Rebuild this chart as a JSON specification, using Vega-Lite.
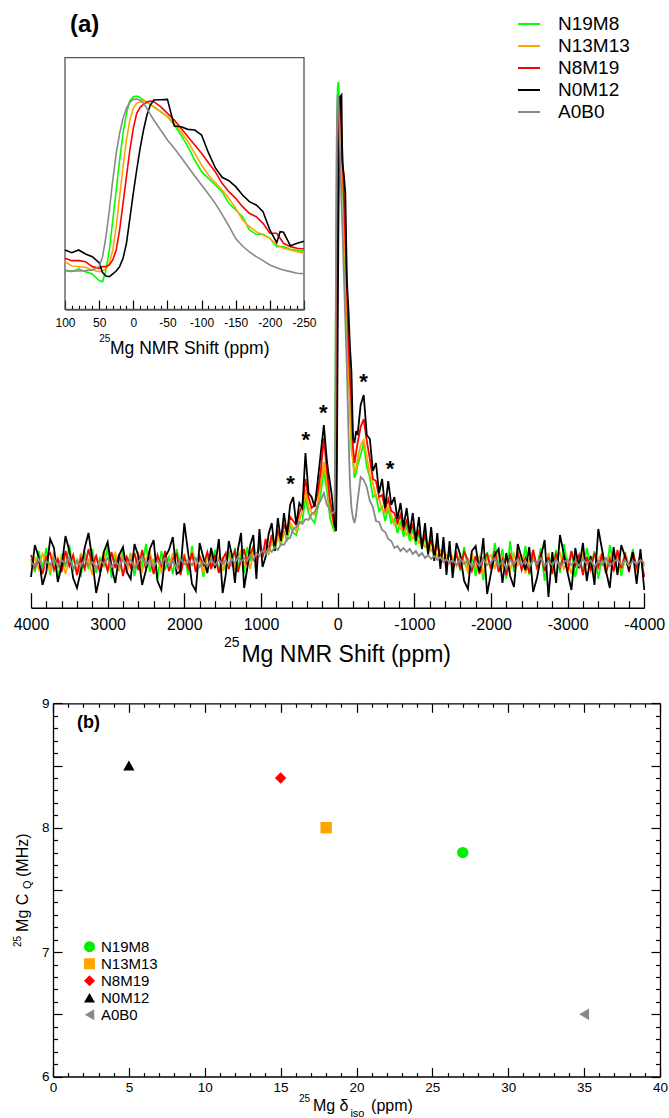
{
"$schema": "https://vega.github.io/schema/vega-lite/v6.json",
"width": 669, "height": 1118, "padding": 0, "autosize": {"type": "none"},
"background": "white",
"config": {"view": {"stroke": null}, "font": "Liberation Sans",
  "axis": {"grid": false, "zindex": 1, "domainColor": "black", "tickColor": "black", "labelColor": "black", "labelFlush": false, "labelOverlap": false, "labelBound": false, "labelFont": "Liberation Sans", "tickWidth": 1.2, "domainWidth": 1.3}},
"datasets": {
"spec": [
{"ppm":4000,"N19M8":4,"N13M13":-3,"N8M19":8,"N0M12":-14,"A0B0":1},
{"ppm":3950,"N19M8":-9,"N13M13":5,"N8M19":-4,"N0M12":18,"A0B0":-3},
{"ppm":3900,"N19M8":12,"N13M13":-6,"N8M19":3,"N0M12":6,"A0B0":4},
{"ppm":3850,"N19M8":-5,"N13M13":9,"N8M19":-11,"N0M12":-22,"A0B0":-5},
{"ppm":3800,"N19M8":15,"N13M13":2,"N8M19":6,"N0M12":-9,"A0B0":2},
{"ppm":3750,"N19M8":-12,"N13M13":-8,"N8M19":10,"N0M12":24,"A0B0":-2},
{"ppm":3700,"N19M8":6,"N13M13":11,"N8M19":-7,"N0M12":15,"A0B0":5},
{"ppm":3650,"N19M8":-17,"N13M13":-2,"N8M19":4,"N0M12":-19,"A0B0":-4},
{"ppm":3600,"N19M8":9,"N13M13":6,"N8M19":-9,"N0M12":-3,"A0B0":3},
{"ppm":3550,"N19M8":-4,"N13M13":-11,"N8M19":12,"N0M12":27,"A0B0":-1},
{"ppm":3500,"N19M8":18,"N13M13":4,"N8M19":-3,"N0M12":12,"A0B0":6},
{"ppm":3450,"N19M8":-8,"N13M13":7,"N8M19":8,"N0M12":-15,"A0B0":-6},
{"ppm":3400,"N19M8":3,"N13M13":-9,"N8M19":-12,"N0M12":-25,"A0B0":2},
{"ppm":3350,"N19M8":-14,"N13M13":10,"N8M19":5,"N0M12":-8,"A0B0":-3},
{"ppm":3300,"N19M8":11,"N13M13":-4,"N8M19":-6,"N0M12":15,"A0B0":4},
{"ppm":3250,"N19M8":-6,"N13M13":3,"N8M19":14,"N0M12":30,"A0B0":-2},
{"ppm":3200,"N19M8":14,"N13M13":-12,"N8M19":-2,"N0M12":4,"A0B0":1},
{"ppm":3150,"N19M8":-10,"N13M13":8,"N8M19":7,"N0M12":-30,"A0B0":-5},
{"ppm":3100,"N19M8":5,"N13M13":-5,"N8M19":-10,"N0M12":-12,"A0B0":3},
{"ppm":3050,"N19M8":-3,"N13M13":12,"N8M19":4,"N0M12":11,"A0B0":-1},
{"ppm":3000,"N19M8":16,"N13M13":-7,"N8M19":-8,"N0M12":21,"A0B0":5},
{"ppm":2950,"N19M8":-15,"N13M13":3,"N8M19":11,"N0M12":-4,"A0B0":-4},
{"ppm":2900,"N19M8":7,"N13M13":10,"N8M19":-5,"N0M12":-20,"A0B0":2},
{"ppm":2850,"N19M8":-8,"N13M13":-6,"N8M19":9,"N0M12":8,"A0B0":-3},
{"ppm":2800,"N19M8":13,"N13M13":5,"N8M19":-13,"N0M12":16,"A0B0":4},
{"ppm":2750,"N19M8":-5,"N13M13":-10,"N8M19":6,"N0M12":-9,"A0B0":-2},
{"ppm":2700,"N19M8":10,"N13M13":7,"N8M19":-4,"N0M12":-16,"A0B0":3},
{"ppm":2650,"N19M8":-13,"N13M13":-3,"N8M19":10,"N0M12":19,"A0B0":-5},
{"ppm":2600,"N19M8":8,"N13M13":9,"N8M19":-7,"N0M12":7,"A0B0":1},
{"ppm":2550,"N19M8":-2,"N13M13":-8,"N8M19":13,"N0M12":-22,"A0B0":6},
{"ppm":2500,"N19M8":19,"N13M13":4,"N8M19":-6,"N0M12":-7,"A0B0":-2},
{"ppm":2450,"N19M8":-9,"N13M13":11,"N8M19":5,"N0M12":14,"A0B0":3},
{"ppm":2400,"N19M8":4,"N13M13":-5,"N8M19":-11,"N0M12":23,"A0B0":-4},
{"ppm":2350,"N19M8":-16,"N13M13":6,"N8M19":8,"N0M12":-18,"A0B0":2},
{"ppm":2300,"N19M8":12,"N13M13":-9,"N8M19":-3,"N0M12":-27,"A0B0":-1},
{"ppm":2250,"N19M8":-7,"N13M13":5,"N8M19":12,"N0M12":6,"A0B0":5},
{"ppm":2200,"N19M8":6,"N13M13":-4,"N8M19":-8,"N0M12":13,"A0B0":-3},
{"ppm":2150,"N19M8":-11,"N13M13":10,"N8M19":4,"N0M12":26,"A0B0":2},
{"ppm":2100,"N19M8":14,"N13M13":-7,"N8M19":9,"N0M12":-11,"A0B0":-5},
{"ppm":2050,"N19M8":-4,"N13M13":3,"N8M19":-12,"N0M12":-8,"A0B0":4},
{"ppm":2000,"N19M8":9,"N13M13":8,"N8M19":6,"N0M12":40,"A0B0":-1},
{"ppm":1950,"N19M8":-12,"N13M13":-6,"N8M19":-5,"N0M12":10,"A0B0":3},
{"ppm":1900,"N19M8":17,"N13M13":12,"N8M19":10,"N0M12":-21,"A0B0":-2},
{"ppm":1850,"N19M8":-6,"N13M13":-3,"N8M19":-9,"N0M12":-28,"A0B0":5},
{"ppm":1800,"N19M8":5,"N13M13":7,"N8M19":7,"N0M12":20,"A0B0":-4},
{"ppm":1750,"N19M8":-14,"N13M13":-10,"N8M19":-2,"N0M12":5,"A0B0":1},
{"ppm":1700,"N19M8":10,"N13M13":4,"N8M19":11,"N0M12":-10,"A0B0":-3},
{"ppm":1650,"N19M8":-3,"N13M13":9,"N8M19":-6,"N0M12":15,"A0B0":4},
{"ppm":1600,"N19M8":13,"N13M13":-5,"N8M19":8,"N0M12":-5,"A0B0":-2},
{"ppm":1550,"N19M8":-9,"N13M13":6,"N8M19":-10,"N0M12":24,"A0B0":3},
{"ppm":1500,"N19M8":6,"N13M13":-8,"N8M19":4,"N0M12":-30,"A0B0":-1},
{"ppm":1460,"N19M8":-8,"N13M13":5,"N8M19":10,"N0M12":-12,"A0B0":3},
{"ppm":1420,"N19M8":12,"N13M13":-4,"N8M19":-6,"N0M12":22,"A0B0":-2},
{"ppm":1380,"N19M8":-3,"N13M13":9,"N8M19":5,"N0M12":8,"A0B0":4},
{"ppm":1340,"N19M8":15,"N13M13":-7,"N8M19":12,"N0M12":-20,"A0B0":0},
{"ppm":1300,"N19M8":-6,"N13M13":6,"N8M19":-9,"N0M12":14,"A0B0":6},
{"ppm":1260,"N19M8":9,"N13M13":12,"N8M19":3,"N0M12":30,"A0B0":1},
{"ppm":1220,"N19M8":-10,"N13M13":-3,"N8M19":14,"N0M12":-25,"A0B0":5},
{"ppm":1180,"N19M8":16,"N13M13":8,"N8M19":-2,"N0M12":-6,"A0B0":2},
{"ppm":1140,"N19M8":2,"N13M13":-6,"N8M19":9,"N0M12":18,"A0B0":8},
{"ppm":1100,"N19M8":18,"N13M13":11,"N8M19":16,"N0M12":28,"A0B0":3},
{"ppm":1060,"N19M8":0,"N13M13":4,"N8M19":-1,"N0M12":-16,"A0B0":10},
{"ppm":1020,"N19M8":22,"N13M13":15,"N8M19":20,"N0M12":34,"A0B0":7},
{"ppm":980,"N19M8":5,"N13M13":8,"N8M19":6,"N0M12":-4,"A0B0":13},
{"ppm":940,"N19M8":20,"N13M13":18,"N8M19":24,"N0M12":6,"A0B0":9},
{"ppm":900,"N19M8":8,"N13M13":10,"N8M19":13,"N0M12":29,"A0B0":15},
{"ppm":860,"N19M8":24,"N13M13":22,"N8M19":28,"N0M12":40,"A0B0":11},
{"ppm":820,"N19M8":12,"N13M13":16,"N8M19":18,"N0M12":12,"A0B0":16},
{"ppm":780,"N19M8":28,"N13M13":26,"N8M19":32,"N0M12":45,"A0B0":13},
{"ppm":740,"N19M8":17,"N13M13":20,"N8M19":24,"N0M12":22,"A0B0":19},
{"ppm":700,"N19M8":32,"N13M13":30,"N8M19":38,"N0M12":50,"A0B0":18},
{"ppm":660,"N19M8":22,"N13M13":27,"N8M19":30,"N0M12":28,"A0B0":24},
{"ppm":620,"N19M8":38,"N13M13":40,"N8M19":46,"N0M12":58,"A0B0":25},
{"ppm":580,"N19M8":30,"N13M13":36,"N8M19":42,"N0M12":66,"A0B0":34},
{"ppm":540,"N19M8":28,"N13M13":32,"N8M19":38,"N0M12":38,"A0B0":36},
{"ppm":500,"N19M8":40,"N13M13":42,"N8M19":50,"N0M12":60,"A0B0":41},
{"ppm":460,"N19M8":42,"N13M13":52,"N8M19":58,"N0M12":55,"A0B0":39},
{"ppm":420,"N19M8":66,"N13M13":74,"N8M19":84,"N0M12":110,"A0B0":44},
{"ppm":380,"N19M8":50,"N13M13":56,"N8M19":66,"N0M12":70,"A0B0":43},
{"ppm":340,"N19M8":44,"N13M13":50,"N8M19":55,"N0M12":66,"A0B0":49},
{"ppm":300,"N19M8":40,"N13M13":48,"N8M19":58,"N0M12":56,"A0B0":51},
{"ppm":260,"N19M8":55,"N13M13":60,"N8M19":70,"N0M12":82,"A0B0":57},
{"ppm":220,"N19M8":70,"N13M13":80,"N8M19":92,"N0M12":110,"A0B0":63},
{"ppm":180,"N19M8":93,"N13M13":101,"N8M19":125,"N0M12":138,"A0B0":70},
{"ppm":140,"N19M8":72,"N13M13":80,"N8M19":92,"N0M12":102,"A0B0":58},
{"ppm":120,"N19M8":60,"N13M13":70,"N8M19":78,"N0M12":90,"A0B0":56},
{"ppm":100,"N19M8":45,"N13M13":55,"N8M19":62,"N0M12":80,"A0B0":52},
{"ppm":80,"N19M8":40,"N13M13":48,"N8M19":55,"N0M12":70,"A0B0":50},
{"ppm":60,"N19M8":35,"N13M13":40,"N8M19":45,"N0M12":55,"A0B0":50},
{"ppm":40,"N19M8":31,"N13M13":34,"N8M19":36,"N0M12":38,"A0B0":52},
{"ppm":30,"N19M8":151,"N13M13":73,"N8M19":46,"N0M12":35,"A0B0":150},
{"ppm":20,"N19M8":309,"N13M13":213,"N8M19":125,"N0M12":32,"A0B0":330},
{"ppm":10,"N19M8":431,"N13M13":361,"N8M19":265,"N0M12":90,"A0B0":440},
{"ppm":0,"N19M8":475,"N13M13":445,"N8M19":392,"N0M12":221,"A0B0":468},
{"ppm":-10,"N19M8":481,"N13M13":462,"N8M19":447,"N0M12":340,"A0B0":466},
{"ppm":-20,"N19M8":460,"N13M13":462,"N8M19":461,"N0M12":427,"A0B0":444},
{"ppm":-30,"N19M8":449,"N13M13":447,"N8M19":462,"N0M12":466,"A0B0":414},
{"ppm":-40,"N19M8":436,"N13M13":436,"N8M19":449,"N0M12":467,"A0B0":388},
{"ppm":-50,"N19M8":423,"N13M13":423,"N8M19":431,"N0M12":468,"A0B0":361},
{"ppm":-60,"N19M8":401,"N13M13":405,"N8M19":414,"N0M12":401,"A0B0":340},
{"ppm":-80,"N19M8":344,"N13M13":357,"N8M19":370,"N0M12":389,"A0B0":291},
{"ppm":-100,"N19M8":278,"N13M13":296,"N8M19":326,"N0M12":370,"A0B0":243},
{"ppm":-120,"N19M8":243,"N13M13":249,"N8M19":278,"N0M12":283,"A0B0":195},
{"ppm":-140,"N19M8":195,"N13M13":208,"N8M19":226,"N0M12":255,"A0B0":134},
{"ppm":-160,"N19M8":160,"N13M13":151,"N8M19":186,"N0M12":217,"A0B0":80},
{"ppm":-180,"N19M8":114,"N13M13":121,"N8M19":160,"N0M12":191,"A0B0":55},
{"ppm":-200,"N19M8":103,"N13M13":103,"N8M19":116,"N0M12":125,"A0B0":45},
{"ppm":-220,"N19M8":85,"N13M13":90,"N8M19":100,"N0M12":120,"A0B0":40},
{"ppm":-240,"N19M8":90,"N13M13":95,"N8M19":110,"N0M12":132,"A0B0":48},
{"ppm":-260,"N19M8":98,"N13M13":104,"N8M19":120,"N0M12":128,"A0B0":62},
{"ppm":-300,"N19M8":108,"N13M13":118,"N8M19":136,"N0M12":158,"A0B0":86},
{"ppm":-340,"N19M8":120,"N13M13":123,"N8M19":144,"N0M12":168,"A0B0":83},
{"ppm":-380,"N19M8":96,"N13M13":106,"N8M19":122,"N0M12":128,"A0B0":76},
{"ppm":-420,"N19M8":86,"N13M13":88,"N8M19":104,"N0M12":124,"A0B0":62},
{"ppm":-460,"N19M8":66,"N13M13":80,"N8M19":84,"N0M12":92,"A0B0":56},
{"ppm":-500,"N19M8":68,"N13M13":66,"N8M19":82,"N0M12":100,"A0B0":42},
{"ppm":-540,"N19M8":52,"N13M13":64,"N8M19":66,"N0M12":70,"A0B0":41},
{"ppm":-580,"N19M8":56,"N13M13":54,"N8M19":68,"N0M12":84,"A0B0":33},
{"ppm":-620,"N19M8":42,"N13M13":50,"N8M19":54,"N0M12":55,"A0B0":31},
{"ppm":-660,"N19M8":55,"N13M13":56,"N8M19":64,"N0M12":82,"A0B0":24},
{"ppm":-700,"N19M8":40,"N13M13":48,"N8M19":52,"N0M12":58,"A0B0":22},
{"ppm":-740,"N19M8":44,"N13M13":38,"N8M19":50,"N0M12":66,"A0B0":15},
{"ppm":-780,"N19M8":30,"N13M13":42,"N8M19":40,"N0M12":44,"A0B0":17},
{"ppm":-820,"N19M8":42,"N13M13":34,"N8M19":48,"N0M12":60,"A0B0":12},
{"ppm":-860,"N19M8":26,"N13M13":36,"N8M19":34,"N0M12":36,"A0B0":15},
{"ppm":-900,"N19M8":38,"N13M13":28,"N8M19":42,"N0M12":55,"A0B0":11},
{"ppm":-940,"N19M8":22,"N13M13":32,"N8M19":30,"N0M12":30,"A0B0":14},
{"ppm":-980,"N19M8":34,"N13M13":24,"N8M19":38,"N0M12":50,"A0B0":9},
{"ppm":-1020,"N19M8":18,"N13M13":28,"N8M19":24,"N0M12":22,"A0B0":12},
{"ppm":-1060,"N19M8":30,"N13M13":20,"N8M19":32,"N0M12":46,"A0B0":7},
{"ppm":-1100,"N19M8":14,"N13M13":24,"N8M19":18,"N0M12":14,"A0B0":10},
{"ppm":-1140,"N19M8":27,"N13M13":16,"N8M19":28,"N0M12":40,"A0B0":5},
{"ppm":-1180,"N19M8":10,"N13M13":20,"N8M19":14,"N0M12":8,"A0B0":8},
{"ppm":-1220,"N19M8":24,"N13M13":12,"N8M19":24,"N0M12":36,"A0B0":4},
{"ppm":-1260,"N19M8":6,"N13M13":16,"N8M19":8,"N0M12":2,"A0B0":7},
{"ppm":-1300,"N19M8":20,"N13M13":6,"N8M19":20,"N0M12":30,"A0B0":3},
{"ppm":-1340,"N19M8":2,"N13M13":12,"N8M19":4,"N0M12":-6,"A0B0":6},
{"ppm":-1380,"N19M8":18,"N13M13":4,"N8M19":16,"N0M12":26,"A0B0":1},
{"ppm":-1420,"N19M8":-4,"N13M13":8,"N8M19":-2,"N0M12":-12,"A0B0":4},
{"ppm":-1460,"N19M8":14,"N13M13":0,"N8M19":12,"N0M12":22,"A0B0":0},
{"ppm":-1500,"N19M8":-6,"N13M13":6,"N8M19":-4,"N0M12":-15,"A0B0":3},
{"ppm":-1550,"N19M8":12,"N13M13":-3,"N8M19":9,"N0M12":20,"A0B0":-2},
{"ppm":-1600,"N19M8":-8,"N13M13":7,"N8M19":-6,"N0M12":8,"A0B0":4},
{"ppm":-1650,"N19M8":16,"N13M13":2,"N8M19":11,"N0M12":-18,"A0B0":-1},
{"ppm":-1700,"N19M8":-5,"N13M13":-9,"N8M19":3,"N0M12":-26,"A0B0":3},
{"ppm":-1750,"N19M8":9,"N13M13":10,"N8M19":-8,"N0M12":12,"A0B0":-4},
{"ppm":-1800,"N19M8":-13,"N13M13":-5,"N8M19":7,"N0M12":17,"A0B0":2},
{"ppm":-1850,"N19M8":7,"N13M13":6,"N8M19":-11,"N0M12":-9,"A0B0":-3},
{"ppm":-1900,"N19M8":-17,"N13M13":-11,"N8M19":5,"N0M12":25,"A0B0":4},
{"ppm":-1950,"N19M8":11,"N13M13":4,"N8M19":9,"N0M12":-31,"A0B0":-2},
{"ppm":-2000,"N19M8":-7,"N13M13":8,"N8M19":-6,"N0M12":-10,"A0B0":1},
{"ppm":-2050,"N19M8":20,"N13M13":-6,"N8M19":12,"N0M12":8,"A0B0":5},
{"ppm":-2100,"N19M8":-3,"N13M13":11,"N8M19":-9,"N0M12":14,"A0B0":-3},
{"ppm":-2150,"N19M8":14,"N13M13":-4,"N8M19":4,"N0M12":-20,"A0B0":2},
{"ppm":-2200,"N19M8":-16,"N13M13":5,"N8M19":-12,"N0M12":10,"A0B0":-5},
{"ppm":-2250,"N19M8":22,"N13M13":-8,"N8M19":8,"N0M12":-13,"A0B0":3},
{"ppm":-2300,"N19M8":-9,"N13M13":9,"N8M19":-3,"N0M12":-24,"A0B0":-1},
{"ppm":-2350,"N19M8":12,"N13M13":-2,"N8M19":10,"N0M12":19,"A0B0":4},
{"ppm":-2400,"N19M8":-6,"N13M13":7,"N8M19":-7,"N0M12":5,"A0B0":-2},
{"ppm":-2450,"N19M8":17,"N13M13":-10,"N8M19":5,"N0M12":-7,"A0B0":2},
{"ppm":-2500,"N19M8":-12,"N13M13":4,"N8M19":-10,"N0M12":16,"A0B0":-4},
{"ppm":-2550,"N19M8":8,"N13M13":12,"N8M19":13,"N0M12":-29,"A0B0":3},
{"ppm":-2600,"N19M8":-4,"N13M13":-7,"N8M19":-4,"N0M12":-15,"A0B0":-1},
{"ppm":-2650,"N19M8":15,"N13M13":6,"N8M19":9,"N0M12":6,"A0B0":5},
{"ppm":-2700,"N19M8":-18,"N13M13":-3,"N8M19":-8,"N0M12":23,"A0B0":-3},
{"ppm":-2750,"N19M8":10,"N13M13":8,"N8M19":6,"N0M12":-34,"A0B0":2},
{"ppm":-2800,"N19M8":-7,"N13M13":-9,"N8M19":-11,"N0M12":11,"A0B0":-2},
{"ppm":-2850,"N19M8":13,"N13M13":5,"N8M19":10,"N0M12":-20,"A0B0":4},
{"ppm":-2900,"N19M8":-10,"N13M13":10,"N8M19":-5,"N0M12":28,"A0B0":-4},
{"ppm":-2950,"N19M8":19,"N13M13":-6,"N8M19":7,"N0M12":9,"A0B0":1},
{"ppm":-3000,"N19M8":-3,"N13M13":3,"N8M19":-9,"N0M12":-10,"A0B0":3},
{"ppm":-3050,"N19M8":11,"N13M13":-11,"N8M19":12,"N0M12":-27,"A0B0":-2},
{"ppm":-3100,"N19M8":-14,"N13M13":7,"N8M19":-3,"N0M12":15,"A0B0":2},
{"ppm":-3150,"N19M8":6,"N13M13":-4,"N8M19":8,"N0M12":-5,"A0B0":-3},
{"ppm":-3200,"N19M8":-9,"N13M13":9,"N8M19":-12,"N0M12":20,"A0B0":4},
{"ppm":-3250,"N19M8":15,"N13M13":-2,"N8M19":6,"N0M12":-18,"A0B0":-1},
{"ppm":-3300,"N19M8":-5,"N13M13":6,"N8M19":-7,"N0M12":7,"A0B0":3},
{"ppm":-3350,"N19M8":12,"N13M13":-9,"N8M19":10,"N0M12":-22,"A0B0":-4},
{"ppm":-3400,"N19M8":-16,"N13M13":4,"N8M19":-4,"N0M12":34,"A0B0":2},
{"ppm":-3450,"N19M8":8,"N13M13":10,"N8M19":9,"N0M12":13,"A0B0":-2},
{"ppm":-3500,"N19M8":-11,"N13M13":-5,"N8M19":-10,"N0M12":-8,"A0B0":5},
{"ppm":-3550,"N19M8":18,"N13M13":7,"N8M19":4,"N0M12":-25,"A0B0":-3},
{"ppm":-3600,"N19M8":-2,"N13M13":-8,"N8M19":-8,"N0M12":16,"A0B0":1},
{"ppm":-3650,"N19M8":10,"N13M13":5,"N8M19":13,"N0M12":-12,"A0B0":4},
{"ppm":-3700,"N19M8":-13,"N13M13":-6,"N8M19":-5,"N0M12":18,"A0B0":-2},
{"ppm":-3750,"N19M8":7,"N13M13":11,"N8M19":8,"N0M12":6,"A0B0":3},
{"ppm":-3800,"N19M8":-6,"N13M13":-3,"N8M19":-9,"N0M12":-6,"A0B0":-3},
{"ppm":-3850,"N19M8":14,"N13M13":6,"N8M19":11,"N0M12":11,"A0B0":2},
{"ppm":-3900,"N19M8":-9,"N13M13":-7,"N8M19":-4,"N0M12":-21,"A0B0":-1},
{"ppm":-3950,"N19M8":5,"N13M13":4,"N8M19":7,"N0M12":14,"A0B0":3},
{"ppm":-4000,"N19M8":-3,"N13M13":-2,"N8M19":-14,"N0M12":-27,"A0B0":0}
],
"inset": [
{"ppm":100,"N19M8":118,"N13M13":143,"N8M19":153,"N0M12":178,"A0B0":115},
{"ppm":90,"N19M8":113,"N13M13":130,"N8M19":146,"N0M12":170,"A0B0":115},
{"ppm":80,"N19M8":121,"N13M13":128,"N8M19":146,"N0M12":178,"A0B0":115},
{"ppm":70,"N19M8":113,"N13M13":126,"N8M19":143,"N0M12":166,"A0B0":116},
{"ppm":60,"N19M8":106,"N13M13":118,"N8M19":128,"N0M12":158,"A0B0":118},
{"ppm":50,"N19M8":86,"N13M13":113,"N8M19":123,"N0M12":140,"A0B0":128},
{"ppm":45,"N19M8":83,"N13M13":115,"N8M19":128,"N0M12":110,"A0B0":158},
{"ppm":40,"N19M8":118,"N13M13":122,"N8M19":128,"N0M12":100,"A0B0":218},
{"ppm":35,"N19M8":178,"N13M13":138,"N8M19":133,"N0M12":98,"A0B0":298},
{"ppm":30,"N19M8":268,"N13M13":178,"N8M19":148,"N0M12":106,"A0B0":388},
{"ppm":25,"N19M8":358,"N13M13":248,"N8M19":178,"N0M12":115,"A0B0":468},
{"ppm":20,"N19M8":448,"N13M13":338,"N8M19":238,"N0M12":128,"A0B0":528},
{"ppm":15,"N19M8":528,"N13M13":428,"N8M19":318,"N0M12":153,"A0B0":573},
{"ppm":10,"N19M8":588,"N13M13":508,"N8M19":398,"N0M12":198,"A0B0":603},
{"ppm":5,"N19M8":626,"N13M13":568,"N8M19":478,"N0M12":273,"A0B0":621},
{"ppm":0,"N19M8":638,"N13M13":603,"N8M19":543,"N0M12":348,"A0B0":630},
{"ppm":-5,"N19M8":640,"N13M13":618,"N8M19":588,"N0M12":418,"A0B0":631},
{"ppm":-10,"N19M8":636,"N13M13":623,"N8M19":606,"N0M12":483,"A0B0":628},
{"ppm":-15,"N19M8":628,"N13M13":626,"N8M19":615,"N0M12":538,"A0B0":618},
{"ppm":-20,"N19M8":621,"N13M13":623,"N8M19":622,"N0M12":583,"A0B0":603},
{"ppm":-25,"N19M8":615,"N13M13":616,"N8M19":625,"N0M12":613,"A0B0":585},
{"ppm":-30,"N19M8":608,"N13M13":606,"N8M19":623,"N0M12":628,"A0B0":568},
{"ppm":-40,"N19M8":593,"N13M13":593,"N8M19":608,"N0M12":629,"A0B0":538},
{"ppm":-50,"N19M8":578,"N13M13":578,"N8M19":588,"N0M12":630,"A0B0":508},
{"ppm":-60,"N19M8":553,"N13M13":558,"N8M19":568,"N0M12":550,"A0B0":483},
{"ppm":-70,"N19M8":523,"N13M13":533,"N8M19":543,"N0M12":548,"A0B0":456},
{"ppm":-80,"N19M8":488,"N13M13":503,"N8M19":518,"N0M12":540,"A0B0":428},
{"ppm":-90,"N19M8":448,"N13M13":468,"N8M19":493,"N0M12":538,"A0B0":400},
{"ppm":-100,"N19M8":413,"N13M13":433,"N8M19":468,"N0M12":523,"A0B0":373},
{"ppm":-110,"N19M8":393,"N13M13":403,"N8M19":440,"N0M12":470,"A0B0":346},
{"ppm":-120,"N19M8":373,"N13M13":380,"N8M19":413,"N0M12":425,"A0B0":318},
{"ppm":-130,"N19M8":353,"N13M13":358,"N8M19":378,"N0M12":396,"A0B0":285},
{"ppm":-140,"N19M8":318,"N13M13":333,"N8M19":353,"N0M12":386,"A0B0":250},
{"ppm":-150,"N19M8":298,"N13M13":303,"N8M19":333,"N0M12":368,"A0B0":212},
{"ppm":-160,"N19M8":278,"N13M13":268,"N8M19":308,"N0M12":343,"A0B0":190},
{"ppm":-170,"N19M8":238,"N13M13":248,"N8M19":288,"N0M12":323,"A0B0":172},
{"ppm":-180,"N19M8":225,"N13M13":233,"N8M19":278,"N0M12":313,"A0B0":158},
{"ppm":-190,"N19M8":225,"N13M13":223,"N8M19":258,"N0M12":293,"A0B0":146},
{"ppm":-200,"N19M8":213,"N13M13":213,"N8M19":228,"N0M12":238,"A0B0":133},
{"ppm":-210,"N19M8":188,"N13M13":193,"N8M19":228,"N0M12":200,"A0B0":125},
{"ppm":-215,"N19M8":188,"N13M13":188,"N8M19":213,"N0M12":233,"A0B0":121},
{"ppm":-220,"N19M8":188,"N13M13":183,"N8M19":198,"N0M12":231,"A0B0":118},
{"ppm":-230,"N19M8":180,"N13M13":178,"N8M19":188,"N0M12":191,"A0B0":113},
{"ppm":-240,"N19M8":178,"N13M13":173,"N8M19":183,"N0M12":198,"A0B0":108},
{"ppm":-250,"N19M8":173,"N13M13":168,"N8M19":181,"N0M12":204,"A0B0":107}
],
"pts": [
{"sample":"N19M8","diso":27,"cq":7.8},
{"sample":"N13M13","diso":18,"cq":8.0},
{"sample":"N8M19","diso":15,"cq":8.4},
{"sample":"N0M12","diso":5,"cq":8.5},
{"sample":"A0B0","diso":35,"cq":6.5}
]
},
"layer": [
{
 "data": {"name": "spec"},
 "transform": [{"fold": ["N19M8","N13M13","N8M19","N0M12","A0B0"], "as": ["sample","intensity"]}],
 "mark": {"type": "line", "strokeWidth": 1.8},
 "encoding": {
  "x": {"field": "ppm", "type": "quantitative", "scale": {"domain":[-4000,4000],"range":[644.3,31],"nice":false,"zero":false},
        "axis": {"orient": "bottom", "offset": -510.3, "values": [-4000,-3000,-2000,-1000,0,1000,2000,3000,4000], "tickSize": -15, "tickWidth": 1.3, "domainWidth": 1.5, "labelFontSize": 16, "labelPadding": 23.5, "labelExpr": "'' + datum.value", "title": null}},
  "y": {"field": "intensity", "type": "quantitative", "scale": {"domain":[-45,481],"range":[608,82],"nice":false,"zero":false}, "axis": null},
  "color": {"field": "sample", "type": "nominal",
    "scale": {"domain": ["N19M8","N13M13","N8M19","N0M12","A0B0"], "range": ["#00ff00","#ffa500","#ff0000","#000000","#888888"]},
    "legend": {"orient": "none", "legendX": 517, "legendY": 13, "title": null, "symbolType": "stroke", "symbolSize": 484, "symbolStrokeWidth": 2, "labelFontSize": 19, "labelFont": "Liberation Sans", "labelColor": "black", "labelOffset": 17, "rowPadding": 0, "clipHeight": 22, "padding": 0}}
 }
},
{
 "data": {"values": [{"ppm":613,"I":72.5},{"ppm":417,"I":115.9},{"ppm":188,"I":142.9},{"ppm":-339,"I":174.2},{"ppm":-682,"I":86.9}]},
 "mark": {"type": "text", "text": "*", "font": "Liberation Sans", "fontWeight": "bold", "fontSize": 22, "align": "center", "baseline": "alphabetic", "color": "black"},
 "encoding": {
  "x": {"field": "ppm", "type": "quantitative", "scale": {"domain":[-4000,4000],"range":[644.3,31],"nice":false,"zero":false},
        "axis": {"orient": "bottom", "offset": -510.3, "values": [-3800,-3600,-3400,-3200,-2800,-2600,-2400,-2200,-1800,-1600,-1400,-1200,-800,-600,-400,-200,200,400,600,800,1200,1400,1600,1800,2200,2400,2600,2800,3200,3400,3600,3800], "tickSize": -7, "tickWidth": 1.2, "labels": false, "domain": false, "title": null}},
  "y": {"field": "I", "type": "quantitative", "scale": {"domain":[-45,481],"range":[608,82],"nice":false,"zero":false}, "axis": null}
 }
},
{
 "data": {"values": [{"ppm":1255,"I":-98.7,"t":"Mg NMR Shift (ppm)"}]},
 "mark": {"type": "text", "font": "Liberation Sans", "fontSize": 23, "align": "left", "baseline": "alphabetic", "color": "black"},
 "encoding": {
  "x": {"field": "ppm", "type": "quantitative", "scale": {"domain":[-4000,4000],"range":[644.3,31],"nice":false,"zero":false}, "axis": null},
  "y": {"field": "I", "type": "quantitative", "scale": {"domain":[-45,481],"range":[608,82],"nice":false,"zero":false}, "axis": null},
  "text": {"field": "t"}
 }
},
{
 "data": {"values": [{"ppm":1483,"I":-84,"t":"25"}]},
 "mark": {"type": "text", "font": "Liberation Sans", "fontSize": 14, "align": "left", "baseline": "alphabetic", "color": "black"},
 "encoding": {
  "x": {"field": "ppm", "type": "quantitative", "scale": {"domain":[-4000,4000],"range":[644.3,31],"nice":false,"zero":false}, "axis": null},
  "y": {"field": "I", "type": "quantitative", "scale": {"domain":[-45,481],"range":[608,82],"nice":false,"zero":false}, "axis": null},
  "text": {"field": "t"}
 }
},
{
 "data": {"values": [{"ppm":3492,"I":531,"t":"(a)"}]},
 "mark": {"type": "text", "font": "Liberation Sans", "fontWeight": "bold", "fontSize": 24, "align": "left", "baseline": "alphabetic", "color": "black"},
 "encoding": {
  "x": {"field": "ppm", "type": "quantitative", "scale": {"domain":[-4000,4000],"range":[644.3,31],"nice":false,"zero":false}, "axis": null},
  "y": {"field": "I", "type": "quantitative", "scale": {"domain":[-45,481],"range":[608,82],"nice":false,"zero":false}, "axis": null},
  "text": {"field": "t"}
 }
},
{
 "data": {"values": [{"frame": "inset"}]},
 "mark": {"type": "rect", "fill": "white", "fillOpacity": 0, "stroke": "#555555", "strokeWidth": 1.3},
 "encoding": {
  "x": {"datum": 100, "type": "quantitative", "scale": {"domain":[-250,100],"range":[304,65],"nice":false,"zero":false},
        "axis": {"orient": "bottom", "offset": -808.7, "values": [90,80,70,60,40,30,20,10,-10,-20,-30,-40,-60,-70,-80,-90,-110,-120,-130,-140,-160,-170,-180,-190,-210,-220,-230,-240], "tickSize": -4, "tickWidth": 1.1, "labels": false, "domain": false, "title": null}},
  "x2": {"datum": -250},
  "y": {"datum": 0, "type": "quantitative", "scale": {"domain":[0,755],"range":[309.3,57.7],"nice":false,"zero":false}, "axis": null},
  "y2": {"datum": 755}
 }
},
{
 "data": {"name": "inset"},
 "transform": [{"fold": ["N19M8","N13M13","N8M19","N0M12","A0B0"], "as": ["sample","intensity"]}],
 "mark": {"type": "line", "strokeWidth": 1.6},
 "encoding": {
  "x": {"field": "ppm", "type": "quantitative", "scale": {"domain":[-250,100],"range":[304,65],"nice":false,"zero":false},
        "axis": {"orient": "bottom", "offset": -808.7, "values": [100,50,0,-50,-100,-150,-200,-250], "tickSize": -9.3, "tickWidth": 1.2, "domainWidth": 1.3, "labelFontSize": 12, "labelPadding": 17.1, "labelExpr": "'' + datum.value", "title": null}},
  "y": {"field": "intensity", "type": "quantitative", "scale": {"domain":[0,755],"range":[309.3,57.7],"nice":false,"zero":false}, "axis": null},
  "color": {"field": "sample", "type": "nominal",
    "scale": {"domain": ["N19M8","N13M13","N8M19","N0M12","A0B0"], "range": ["#00ff00","#ffa500","#ff0000","#000000","#888888"]},
    "legend": null}
 }
},
{
 "data": {"values": [{"ppm":34.1,"I":-134.1,"t":"Mg NMR Shift (ppm)"}]},
 "mark": {"type": "text", "font": "Liberation Sans", "fontSize": 17.5, "align": "left", "baseline": "alphabetic", "color": "black"},
 "encoding": {
  "x": {"field": "ppm", "type": "quantitative", "scale": {"domain":[-250,100],"range":[304,65],"nice":false,"zero":false}, "axis": null},
  "y": {"field": "I", "type": "quantitative", "scale": {"domain":[0,755],"range":[309.3,57.7],"nice":false,"zero":false}, "axis": null},
  "text": {"field": "t"}
 }
},
{
 "data": {"values": [{"ppm":49.8,"I":-97.2,"t":"25"}]},
 "mark": {"type": "text", "font": "Liberation Sans", "fontSize": 10, "align": "left", "baseline": "alphabetic", "color": "black"},
 "encoding": {
  "x": {"field": "ppm", "type": "quantitative", "scale": {"domain":[-250,100],"range":[304,65],"nice":false,"zero":false}, "axis": null},
  "y": {"field": "I", "type": "quantitative", "scale": {"domain":[0,755],"range":[309.3,57.7],"nice":false,"zero":false}, "axis": null},
  "text": {"field": "t"}
 }
},
{
 "data": {"name": "pts"},
 "mark": {"type": "point", "filled": true, "size": 130, "opacity": 1},
 "encoding": {
  "x": {"field": "diso", "type": "quantitative", "scale": {"domain":[0,40],"range":[53,660],"nice":false,"zero":false},
        "axis": {"orient": "bottom", "offset": -41.5, "values": [0,5,10,15,20,25,30,35,40], "tickSize": -9, "labelFontSize": 13.5, "labelPadding": 13.2, "title": null}},
  "y": {"field": "cq", "type": "quantitative", "scale": {"domain":[6,9],"range":[1076.5,703.3],"nice":false,"zero":false},
        "axis": {"orient": "left", "offset": -53, "values": [6,6.5,7,7.5,8,8.5,9], "tickSize": -9, "labelFontSize": 13.5, "labelPadding": 13, "labelExpr": "datum.value % 1 == 0 ? '' + datum.value : ''", "title": null}},
  "color": {"field": "sample", "type": "nominal",
    "scale": {"domain": ["N19M8","N13M13","N8M19","N0M12","A0B0"], "range": ["#00ee00","#ffa500","#ff0000","#000000","#888888"]},
    "legend": {"orient": "none", "legendX": 82, "legendY": 938.4, "title": null, "symbolSize": 120, "labelFontSize": 15, "labelFont": "Liberation Sans", "labelColor": "black", "labelOffset": 4, "rowPadding": 0, "clipHeight": 16.5, "padding": 0, "symbolStrokeWidth": 0}},
  "shape": {"field": "sample", "type": "nominal",
    "scale": {"domain": ["N19M8","N13M13","N8M19","N0M12","A0B0"], "range": ["circle","square","diamond","triangle-up","triangle-left"]},
    "legend": {"orient": "none", "legendX": 82, "legendY": 938.4, "title": null, "symbolSize": 120, "labelFontSize": 15, "labelFont": "Liberation Sans", "labelColor": "black", "labelOffset": 4, "rowPadding": 0, "clipHeight": 16.5, "padding": 0, "symbolStrokeWidth": 0}}
 }
},
{
 "data": {"name": "pts"},
 "mark": {"type": "point", "opacity": 0},
 "encoding": {
  "x": {"field": "diso", "type": "quantitative", "scale": {"domain":[0,40],"range":[53,660],"nice":false,"zero":false},
        "axis": {"orient": "bottom", "offset": -41.5, "values": [1,2,3,4,6,7,8,9,11,12,13,14,16,17,18,19,21,22,23,24,26,27,28,29,31,32,33,34,36,37,38,39], "tickSize": -4, "labels": false, "domain": false, "title": null}},
  "y": {"field": "cq", "type": "quantitative", "scale": {"domain":[6,9],"range":[1076.5,703.3],"nice":false,"zero":false},
        "axis": {"orient": "left", "offset": -53, "values": [6.1,6.2,6.3,6.4,6.6,6.7,6.8,6.9,7.1,7.2,7.3,7.4,7.6,7.7,7.8,7.9,8.1,8.2,8.3,8.4,8.6,8.7,8.8,8.9], "tickSize": -4.5, "labels": false, "domain": false, "title": null}}
 }
},
{
 "data": {"name": "pts"},
 "mark": {"type": "point", "opacity": 0},
 "encoding": {
  "x": {"field": "diso", "type": "quantitative", "scale": {"domain":[0,40],"range":[53,660],"nice":false,"zero":false},
        "axis": {"orient": "top", "offset": -703.3, "values": [0,5,10,15,20,25,30,35,40], "tickSize": -9, "labels": false, "title": null}},
  "y": {"field": "cq", "type": "quantitative", "scale": {"domain":[6,9],"range":[1076.5,703.3],"nice":false,"zero":false},
        "axis": {"orient": "right", "offset": -9, "values": [6,6.5,7,7.5,8,8.5,9], "tickSize": -9, "labels": false, "title": null}}
 }
},
{
 "data": {"name": "pts"},
 "mark": {"type": "point", "opacity": 0},
 "encoding": {
  "x": {"field": "diso", "type": "quantitative", "scale": {"domain":[0,40],"range":[53,660],"nice":false,"zero":false},
        "axis": {"orient": "top", "offset": -703.3, "values": [1,2,3,4,6,7,8,9,11,12,13,14,16,17,18,19,21,22,23,24,26,27,28,29,31,32,33,34,36,37,38,39], "tickSize": -4, "labels": false, "domain": false, "title": null}},
  "y": {"field": "cq", "type": "quantitative", "scale": {"domain":[6,9],"range":[1076.5,703.3],"nice":false,"zero":false},
        "axis": {"orient": "right", "offset": -9, "values": [6.1,6.2,6.3,6.4,6.6,6.7,6.8,6.9,7.1,7.2,7.3,7.4,7.6,7.7,7.8,7.9,8.1,8.2,8.3,8.4,8.6,8.7,8.8,8.9], "tickSize": -4.5, "labels": false, "domain": false, "title": null}}
 }
},
{
 "data": {"values": [{"diso":1.58,"cq":8.801,"t":"(b)"}]},
 "mark": {"type": "text", "font": "Liberation Sans", "fontWeight": "bold", "fontSize": 18, "align": "left", "baseline": "alphabetic", "color": "black"},
 "encoding": {
  "x": {"field": "diso", "type": "quantitative", "scale": {"domain":[0,40],"range":[53,660],"nice":false,"zero":false}, "axis": null},
  "y": {"field": "cq", "type": "quantitative", "scale": {"domain":[6,9],"range":[1076.5,703.3],"nice":false,"zero":false}, "axis": null},
  "text": {"field": "t"}
 }
},
{
 "data": {"values": [{"diso":17.13,"cq":5.719,"t":"Mg δ"},{"diso":20.96,"cq":5.719,"t":"(ppm)"}]},
 "mark": {"type": "text", "font": "Liberation Sans", "fontSize": 16, "align": "left", "baseline": "alphabetic", "color": "black"},
 "encoding": {
  "x": {"field": "diso", "type": "quantitative", "scale": {"domain":[0,40],"range":[53,660],"nice":false,"zero":false}, "axis": null},
  "y": {"field": "cq", "type": "quantitative", "scale": {"domain":[6,9],"range":[1076.5,703.3],"nice":false,"zero":false}, "axis": null},
  "text": {"field": "t"}
 }
},
{
 "data": {"values": [{"diso":16.21,"cq":5.795,"t":"25"}]},
 "mark": {"type": "text", "font": "Liberation Sans", "fontSize": 10, "align": "left", "baseline": "alphabetic", "color": "black"},
 "encoding": {
  "x": {"field": "diso", "type": "quantitative", "scale": {"domain":[0,40],"range":[53,660],"nice":false,"zero":false}, "axis": null},
  "y": {"field": "cq", "type": "quantitative", "scale": {"domain":[6,9],"range":[1076.5,703.3],"nice":false,"zero":false}, "axis": null},
  "text": {"field": "t"}
 }
},
{
 "data": {"values": [{"diso":19.6,"cq":5.674,"t":"iso"}]},
 "mark": {"type": "text", "font": "Liberation Sans", "fontSize": 11, "align": "left", "baseline": "alphabetic", "color": "black"},
 "encoding": {
  "x": {"field": "diso", "type": "quantitative", "scale": {"domain":[0,40],"range":[53,660],"nice":false,"zero":false}, "axis": null},
  "y": {"field": "cq", "type": "quantitative", "scale": {"domain":[6,9],"range":[1076.5,703.3],"nice":false,"zero":false}, "axis": null},
  "text": {"field": "t"}
 }
},
{
 "data": {"values": [{"diso":-1.68,"cq":7.162,"t":"Mg C"},{"diso":-1.68,"cq":7.604,"t":"(MHz)"}]},
 "mark": {"type": "text", "font": "Liberation Sans", "fontSize": 16, "angle": 270, "align": "left", "baseline": "alphabetic", "color": "black"},
 "encoding": {
  "x": {"field": "diso", "type": "quantitative", "scale": {"domain":[0,40],"range":[53,660],"nice":false,"zero":false}, "axis": null},
  "y": {"field": "cq", "type": "quantitative", "scale": {"domain":[6,9],"range":[1076.5,703.3],"nice":false,"zero":false}, "axis": null},
  "text": {"field": "t"}
 }
},
{
 "data": {"values": [{"diso":-2.076,"cq":7.041,"t":"25"}]},
 "mark": {"type": "text", "font": "Liberation Sans", "fontSize": 10, "angle": 270, "align": "left", "baseline": "alphabetic", "color": "black"},
 "encoding": {
  "x": {"field": "diso", "type": "quantitative", "scale": {"domain":[0,40],"range":[53,660],"nice":false,"zero":false}, "axis": null},
  "y": {"field": "cq", "type": "quantitative", "scale": {"domain":[6,9],"range":[1076.5,703.3],"nice":false,"zero":false}, "axis": null},
  "text": {"field": "t"}
 }
},
{
 "data": {"values": [{"diso":-1.45,"cq":7.507,"t":"Q"}]},
 "mark": {"type": "text", "font": "Liberation Sans", "fontSize": 11, "angle": 270, "align": "left", "baseline": "alphabetic", "color": "black"},
 "encoding": {
  "x": {"field": "diso", "type": "quantitative", "scale": {"domain":[0,40],"range":[53,660],"nice":false,"zero":false}, "axis": null},
  "y": {"field": "cq", "type": "quantitative", "scale": {"domain":[6,9],"range":[1076.5,703.3],"nice":false,"zero":false}, "axis": null},
  "text": {"field": "t"}
 }
}
],
"resolve": {"scale": {"x": "independent", "y": "independent", "color": "independent", "shape": "independent"}, "axis": {"x": "independent", "y": "independent"}, "legend": {"color": "independent", "shape": "independent"}}
}
